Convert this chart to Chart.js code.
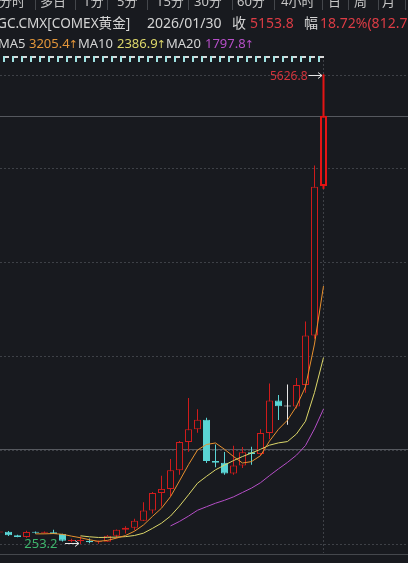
<!DOCTYPE html>
<html>
<head>
<meta charset="utf-8">
<script src="https://cdn.jsdelivr.net/npm/chart.js@4.4.1/dist/chart.umd.min.js"></script>
<style>
html, body { margin: 0; padding: 0; background: #181a1f; overflow: hidden; }
#wrap { position: relative; width: 408px; height: 563px; }
canvas { position: absolute; left: 0; top: 0; }
.t { position: absolute; white-space: nowrap; font-family: "Noto Sans", "Noto Sans CJK SC", sans-serif; font-size: 14px; line-height: 14px; color: #d4d4d4; }
.tab { font-size: 13px; line-height: 13px; top: -5px; color: #c6c6c6; }
.sep { position: absolute; top: 0; width: 1px; height: 10px; background: #44474c; }
.r2 { top: 16px; }
.r3 { top: 36px; font-size: 13px; }
.red { color: #dc3c45; }
.ar { font-family: "DejaVu Sans", sans-serif; font-size: 11px; margin-left: -1px; }
</style>
</head>
<body>
<div id="wrap">
  <canvas id="kline" width="408" height="563"></canvas>

  <span class="t tab" style="left:-1px">分时</span><span class="sep" style="left:35px"></span>
  <span class="t tab" style="left:40px">多日</span><span class="sep" style="left:75px"></span>
  <span class="t tab" style="left:83px">1分</span><span class="sep" style="left:107px"></span>
  <span class="t tab" style="left:117px">5分</span><span class="sep" style="left:147px"></span>
  <span class="t tab" style="left:156px">15分</span><span class="sep" style="left:188px"></span>
  <span class="t tab" style="left:194px">30分</span><span class="sep" style="left:232px"></span>
  <span class="t tab" style="left:237px">60分</span><span class="sep" style="left:274px"></span>
  <span class="t tab" style="left:281px">4小时</span><span class="sep" style="left:322px"></span>
  <span class="t tab" style="left:328px">日</span><span class="sep" style="left:348px"></span>
  <span class="t tab" style="left:354px">周</span><span class="sep" style="left:378px"></span>
  <span class="t tab" style="left:382px">月</span><span class="sep" style="left:405px"></span>

  <span class="t r2" style="left:-3px;font-size:13.6px">GC.CMX[COMEX黄金]</span>
  <span class="t r2" style="left:147px">2026/01/30</span>
  <span class="t r2" style="left:232px">收</span>
  <span class="t r2 red" style="left:250px">5153.8</span>
  <span class="t r2" style="left:304px">幅</span>
  <span class="t r2 red" style="left:320px">18.72%(812.7)</span>

  <span class="t r3" style="left:-2px">MA5</span>
  <span class="t r3" style="left:29px;color:#e3963a">3205.4<span class="ar">↑</span></span>
  <span class="t r3" style="left:78px">MA10</span>
  <span class="t r3" style="left:117px;color:#dcd76a">2386.9<span class="ar">↑</span></span>
  <span class="t r3" style="left:166px">MA20</span>
  <span class="t r3" style="left:205px;color:#b64fc8">1797.8<span class="ar">↑</span></span>
</div>
<script>
// yearly candles, COMEX gold
const YEARS = [1990, 1991, 1992, 1993, 1994, 1995, 1996, 1997, 1998, 1999,
    2000, 2001, 2002, 2003, 2004, 2005, 2006, 2007, 2008, 2009,
    2010, 2011, 2012, 2013, 2014, 2015, 2016, 2017, 2018, 2019,
    2020, 2021, 2022, 2023, 2024, 2025, 2026];
const OPEN  = [385, 393, 353, 333, 391, 383, 387, 369, 287, 288,
    289, 272, 279, 347, 416, 438, 518, 636, 838, 884,
    1097, 1421, 1566, 1675, 1202, 1184, 1060, 1152, 1303, 1282,
    1523, 1895, 1826, 1826, 2072, 2641, 4350];
const HIGH  = [423, 403, 360, 406, 397, 396, 416, 370, 314, 339,
    317, 294, 355, 418, 457, 542, 732, 848, 1033, 1227,
    1431, 1923, 1796, 1697, 1392, 1307, 1377, 1362, 1366, 1566,
    2089, 1959, 2078, 2152, 2801, 4584, 5626.8];
const LOW   = [345, 344, 330, 326, 370, 372, 367, 283, 273, 253.2,
    263, 255, 278, 320, 373, 411, 517, 603, 681, 801,
    1045, 1308, 1527, 1180, 1131, 1046, 1046, 1124, 1160, 1266,
    1451, 1673, 1618, 1805, 1984, 2603, 4318];
const CLOSE = [387, 353, 333, 391, 383, 387, 369, 290, 288, 289,
    272, 279, 347, 416, 438, 518, 636, 838, 884, 1097,
    1421, 1566, 1675, 1202, 1184, 1060, 1152, 1303, 1282, 1523,
    1895, 1829, 1826, 2072, 2641, 4341.1, 5153.8];

const MA5 = [null, null, null, null, 369.4, 369.4, 372.6, 364.0, 343.4, 324.6,
    301.6, 283.6, 295.0, 320.6, 350.4, 399.6, 471.0, 569.2, 662.8, 794.6,
    975.2, 1161.2, 1328.6, 1392.2, 1409.6, 1337.4, 1254.6, 1180.2, 1196.2, 1264.0,
    1431.0, 1566.4, 1671.0, 1829.0, 2052.6, 2541.8, 3205.4];
const MA10 = [null, null, null, null, null, null, null, null, null, 347.0,
    335.5, 328.1, 329.5, 332.0, 337.5, 350.6, 377.3, 432.1, 491.7, 572.5,
    687.4, 816.1, 948.9, 1027.5, 1102.1, 1156.3, 1207.9, 1254.4, 1294.2, 1336.8,
    1384.2, 1410.5, 1425.6, 1512.6, 1658.3, 1986.4, 2386.9];
const MA20 = [null, null, null, null, null, null, null, null, null, null,
    null, null, null, null, null, null, null, null, null, 459.8,
    511.5, 572.1, 639.2, 679.8, 719.8, 753.5, 792.6, 843.3, 893.0, 954.7,
    1035.8, 1113.3, 1187.3, 1270.1, 1380.2, 1571.4, 1797.8];

// dotted grid (high .. low) and solid level lines
const GRID_VALUES = [5626.8, 4552.1, 3477.4, 2402.6, 1327.9, 253.2];
const LEVEL_LINES = [5153.8, 1343];

const BG = '#181a1f';
const UP = '#d01c1c';
const UP_LAST = '#e41414';
const DOWN = '#5ad4d4';
const FLAT = '#e8e8e8';
const last = YEARS.length - 1;

function candleColor(i) {
    if (CLOSE[i] > OPEN[i]) return i === last ? UP_LAST : UP;
    if (CLOSE[i] < OPEN[i]) return DOWN;
    return FLAT;
}
function bodyFill(i) {
    if (CLOSE[i] > OPEN[i]) return BG;
    return candleColor(i);
}

const idx = YEARS.map((_, i) => i);

function arrow(ctx, x0, x1, y) {
    ctx.beginPath();
    ctx.moveTo(x0, y); ctx.lineTo(x1, y);
    ctx.moveTo(x1 - 4, y - 3); ctx.lineTo(x1, y); ctx.lineTo(x1 - 4, y + 3);
    ctx.stroke();
}

const overlay = {
    id: 'overlay',
    beforeDatasetsDraw(chart) {
        const {ctx, chartArea: a, scales: {x, y}} = chart;
        ctx.save();
        ctx.lineWidth = 1;
        ctx.strokeStyle = '#3e4147';
        ctx.setLineDash([2, 2]);
        GRID_VALUES.forEach(v => {
            const py = Math.round(y.getPixelForValue(v)) + 0.5;
            ctx.beginPath(); ctx.moveTo(a.left, py); ctx.lineTo(a.right, py); ctx.stroke();
        });
        const cx = Math.floor(x.getPixelForValue(last)) + 0.5;
        ctx.beginPath(); ctx.moveTo(cx, 56); ctx.lineTo(cx, a.bottom - 1); ctx.stroke();
        ctx.setLineDash([]);
        ctx.strokeStyle = '#55585e';
        LEVEL_LINES.forEach(v => {
            const py = Math.round(y.getPixelForValue(v)) + 0.5;
            ctx.beginPath(); ctx.moveTo(a.left, py); ctx.lineTo(a.right, py); ctx.stroke();
        });
        ctx.strokeStyle = '#45484d';
        ctx.beginPath(); ctx.moveTo(a.left, a.bottom + 0.5); ctx.lineTo(a.right, a.bottom + 0.5); ctx.stroke();
        // marker strip above the plot
        for (let i = 1; i < YEARS.length; i++) {
            const px = Math.floor(x.getPixelForValue(i));
            ctx.fillStyle = '#dadada';
            ctx.fillRect(px - 5, 56, 6, 2);
            ctx.fillStyle = '#9fe3e3';
            ctx.fillRect(px - 5, 56, 2, 6);
        }
        ctx.restore();
    },
    afterDatasetsDraw(chart) {
        const {ctx, scales: {x, y}} = chart;
        let hi = 0, lo = 0;
        idx.forEach(i => {
            if (HIGH[i] > HIGH[hi]) hi = i;
            if (LOW[i] < LOW[lo]) lo = i;
        });
        ctx.save();
        ctx.font = '12px "Noto Sans"';
        ctx.textBaseline = 'middle';
        ctx.lineWidth = 1;
        ctx.strokeStyle = '#e6e6e6';

        const hx = x.getPixelForValue(hi), hy = Math.round(y.getPixelForValue(HIGH[hi])) + 0.5;
        ctx.fillStyle = '#d2343c';
        ctx.textAlign = 'right';
        ctx.fillText(HIGH[hi].toFixed(1), hx - 16, hy + 1);
        arrow(ctx, hx - 15, hx - 1.5, hy);

        const lx = x.getPixelForValue(lo), ly = Math.round(y.getPixelForValue(LOW[lo])) - 0.5;
        ctx.fillStyle = '#3db56c';
        ctx.font = '13px "Noto Sans"';
        ctx.fillText(LOW[lo].toFixed(1), lx - 23, ly + 1);
        arrow(ctx, lx - 15.5, lx - 1.5, ly);
        ctx.restore();
    }
};

new Chart(document.getElementById('kline').getContext('2d'), {
    data: {
        datasets: [
            {
                type: 'line', label: 'MA5', order: 0,
                data: idx.map(i => ({x: i, y: MA5[i]})),
                borderColor: '#e8912f', borderWidth: 1, pointRadius: 0, tension: 0
            },
            {
                type: 'line', label: 'MA10', order: 0,
                data: idx.map(i => ({x: i, y: MA10[i]})),
                borderColor: '#dcd76a', borderWidth: 1, pointRadius: 0, tension: 0
            },
            {
                type: 'line', label: 'MA20', order: 0,
                data: idx.map(i => ({x: i, y: MA20[i]})),
                borderColor: '#b64fc8', borderWidth: 1, pointRadius: 0, tension: 0
            },
            {
                type: 'bar', label: 'body', order: 1, grouped: false,
                data: idx.map(i => ({x: i, y: [OPEN[i], CLOSE[i]]})),
                backgroundColor: ctx => bodyFill(ctx.dataIndex),
                borderColor: ctx => candleColor(ctx.dataIndex),
                borderWidth: ctx => ctx.dataIndex === last ? 2 : 1,
                borderSkipped: false,
                inflateAmount: 0,
                barThickness: 7,
                minBarLength: 1
            },
            {
                type: 'bar', label: 'lastWick', order: 2, grouped: false,
                data: [{x: last, y: [LOW[last], HIGH[last]]}],
                backgroundColor: UP_LAST,
                borderWidth: 0,
                inflateAmount: 0,
                barThickness: 2
            },
            {
                type: 'bar', label: 'wick', order: 3, grouped: false,
                data: idx.map(i => ({x: i, y: [LOW[i], HIGH[i]]})),
                backgroundColor: ctx => candleColor(ctx.dataIndex),
                borderWidth: 0,
                inflateAmount: 0,
                barThickness: 1
            }
        ]
    },
    options: {
        responsive: false,
        animation: false,
        devicePixelRatio: 1,
        layout: { padding: { top: 64, bottom: 9, left: 0, right: 0 } },
        plugins: {
            legend: { display: false },
            tooltip: { enabled: false }
        },
        scales: {
            x: { type: 'linear', display: false, offset: false, min: 0.0556, max: 45.389 },
            y: { type: 'linear', display: false, min: 138.75, max: 5747.0 }
        }
    },
    plugins: [overlay]
});
</script>
</body>
</html>
